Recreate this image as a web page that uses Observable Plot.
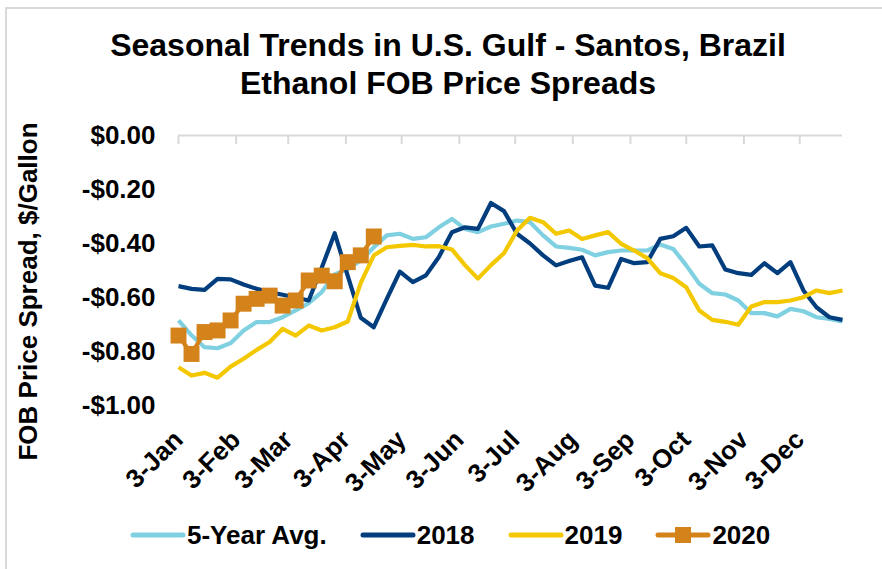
<!DOCTYPE html>
<html><head><meta charset="utf-8">
<script src="https://cdn.jsdelivr.net/npm/d3@7"></script>
<script src="https://cdn.jsdelivr.net/npm/@observablehq/plot@0.6"></script>
<style>
body{margin:0;background:#fff;}
#chart{position:relative;width:882px;height:569px;overflow:hidden;font-family:"Liberation Sans",Arial,sans-serif;font-weight:bold;color:#000;background:#fff;}
#frame{position:absolute;left:5px;top:7px;width:900px;height:600px;border-left:2px solid #d9d9d9;border-top:2px solid #d9d9d9;}
#title{position:absolute;left:0;top:26px;width:896px;text-align:center;font-size:32px;line-height:38px;}
#plot{position:absolute;left:0;top:110px;}
#legend{position:absolute;left:130px;top:516px;height:38px;display:flex;align-items:center;gap:33px;font-size:26px;line-height:38px;}
.item{display:flex;align-items:center;}
.item svg{margin-right:1px;}
</style>
</head><body>
<div id="chart">
  <div id="frame"></div>
  <div id="title">Seasonal Trends in U.S. Gulf - Santos, Brazil<br>Ethanol FOB Price Spreads</div>
  <div id="plot"></div>
  <div id="legend"></div>
</div>
<script>
// Weekly observation dates (month-day)
const weeks = ["01-03","01-10","01-17","01-24","01-31","02-07","02-14","02-21","02-28",
  "03-07","03-14","03-21","03-28","04-04","04-11","04-18","04-25",
  "05-02","05-09","05-16","05-23","05-30","06-06","06-13","06-20","06-27",
  "07-04","07-11","07-18","07-25","08-01","08-08","08-15","08-22","08-29",
  "09-05","09-12","09-19","09-26","10-03","10-10","10-17","10-24","10-31",
  "11-07","11-14","11-21","11-28","12-05","12-12","12-19","12-26"];
const monthTicks = ["01-03","02-03","03-03","04-03","05-03","06-03","07-03","08-03","09-03","10-03","11-03","12-03"];
const yTicks = [0, -0.2, -0.4, -0.6, -0.8, -1.0];
const seriesNames = ["5-Year Avg.", "2018", "2019", "2020"];
const seriesColors = ["#7fd0e1", "#023e7d", "#f3c800", "#d4821a"];

const avg5 = [-0.685,-0.74,-0.784,-0.788,-0.769,-0.722,-0.691,-0.691,-0.673,-0.648,-0.621,-0.58,-0.515,-0.494,-0.463,-0.414,-0.370,-0.364,-0.383,-0.377,-0.340,-0.309,-0.346,-0.358,-0.337,-0.327,
  -0.315,-0.321,-0.37,-0.411,-0.416,-0.423,-0.444,-0.432,-0.426,-0.426,-0.426,-0.404,-0.42,-0.481,-0.549,-0.584,-0.589,-0.611,-0.658,-0.658,-0.670,-0.642,-0.651,-0.673,-0.679,-0.689];
const y2018 = [-0.558,-0.568,-0.572,-0.531,-0.533,-0.552,-0.568,-0.58,-0.59,-0.60,-0.611,-0.49,-0.362,-0.52,-0.675,-0.71,-0.605,-0.504,-0.543,-0.518,-0.45,-0.358,-0.340,-0.346,-0.25,-0.28,
  -0.364,-0.40,-0.444,-0.481,-0.465,-0.451,-0.556,-0.564,-0.457,-0.473,-0.469,-0.383,-0.373,-0.342,-0.411,-0.407,-0.496,-0.51,-0.516,-0.473,-0.51,-0.469,-0.574,-0.636,-0.673,-0.683];
const y2019 = [-0.858,-0.889,-0.879,-0.897,-0.856,-0.827,-0.794,-0.765,-0.716,-0.741,-0.704,-0.722,-0.710,-0.689,-0.546,-0.444,-0.414,-0.409,-0.405,-0.411,-0.41,-0.422,-0.48,-0.53,-0.48,-0.436,
  -0.352,-0.305,-0.321,-0.364,-0.352,-0.383,-0.370,-0.358,-0.401,-0.426,-0.454,-0.510,-0.528,-0.562,-0.648,-0.683,-0.690,-0.701,-0.633,-0.617,-0.617,-0.611,-0.599,-0.574,-0.584,-0.574];
const y2020 = [-0.741,-0.809,-0.728,-0.722,-0.685,-0.623,-0.605,-0.593,-0.630,-0.611,-0.537,-0.519,-0.540,-0.469,-0.444,-0.374];

const parse = s => new Date(`2019-${s}T00:00:00Z`);
const rows = [];
[avg5, y2018, y2019, y2020].forEach((vals, k) =>
  vals.forEach((v, i) => rows.push({series: seriesNames[k], date: parse(weeks[i]), value: v})));
const rows2020 = rows.filter(d => d.series === "2020");
const tickDates = monthTicks.map(parse);
const fmtY = v => (v < -1e-9 ? "-" : "") + "$" + Math.abs(v).toFixed(2);

const plot = Plot.plot({
  width: 882, height: 385,
  marginTop: 25, marginBottom: 90, marginLeft: 178, marginRight: 40,
  style: {fontFamily: "'Liberation Sans', Arial, sans-serif", fontSize: "26px", fontWeight: "bold", color: "#000", background: "transparent", overflow: "visible"},
  x: {type: "utc", domain: [parse(weeks[0]), parse(weeks[weeks.length - 1])]},
  y: {domain: [-1, 0]},
  color: {domain: seriesNames, range: seriesColors},
  marks: [
    Plot.ruleY([0], {stroke: "#d9d9d9", strokeWidth: 2}),
    Plot.axisX({anchor: "top", ticks: tickDates, tickSize: -8, tickFormat: () => "", stroke: "#d9d9d9", strokeWidth: 2, label: null}),
    Plot.axisX({anchor: "bottom", ticks: tickDates, tickSize: 0, tickRotate: -45, tickPadding: 30, tickFormat: d3.utcFormat("%-d-%b"), label: null}),
    Plot.axisY({ticks: yTicks, tickSize: 0, tickPadding: 23, tickFormat: fmtY, label: null}),
    Plot.text(["FOB Price Spread, $/Gallon"], {frameAnchor: "left", textAnchor: "middle", rotate: -90, dx: -150, dy: 21, fontSize: 26, fontWeight: "bold"}),
    Plot.line(rows, {x: "date", y: "value", z: "series", stroke: "series", strokeWidth: 4.2, strokeLinejoin: "round", strokeLinecap: "butt"}),
    Plot.dot(rows2020, {x: "date", y: "value", symbol: "square", fill: "series", r: 9})
  ]
});
document.getElementById("plot").appendChild(plot);

// Legend
const legend = document.getElementById("legend");
seriesNames.forEach((name, k) => {
  const item = document.createElement("div");
  item.className = "item";
  const sq = k === 3 ? `<rect x="20" y="2" width="16" height="16" fill="${seriesColors[k]}"/>` : "";
  item.innerHTML = `<svg width="56" height="20"><line x1="3" y1="10" x2="53" y2="10" stroke="${seriesColors[k]}" stroke-width="5" stroke-linecap="round"/>${sq}</svg><span>${name}</span>`;
  legend.appendChild(item);
});
</script>
</body></html>
